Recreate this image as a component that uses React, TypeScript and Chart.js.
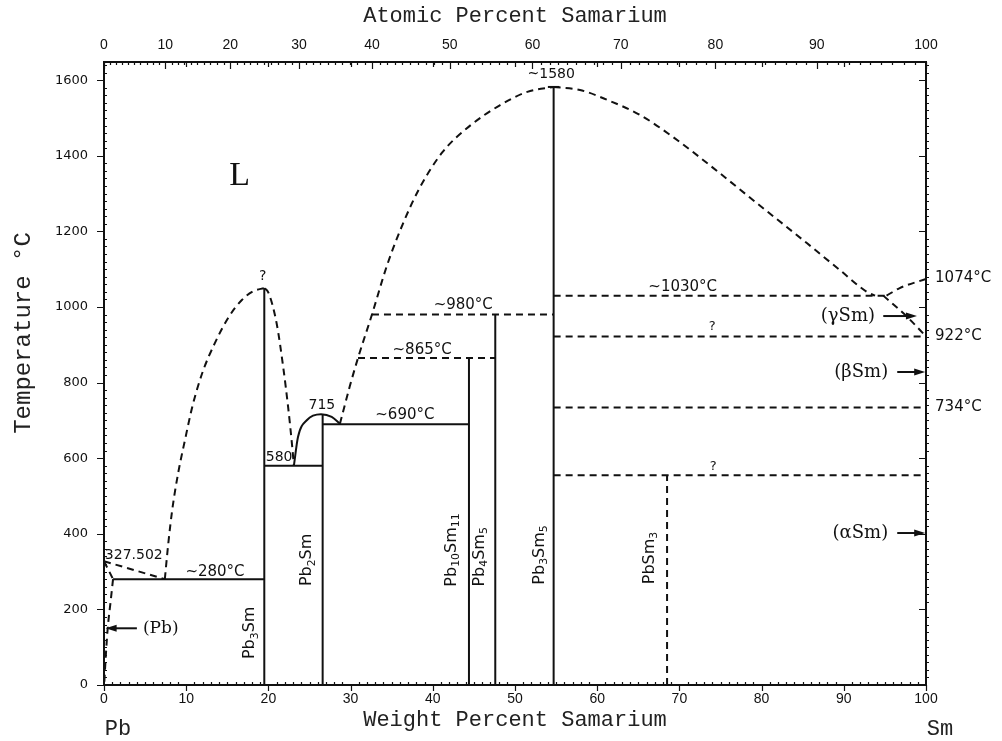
import React, { useEffect, useRef } from "react";
import { Chart, registerables } from "chart.js";

Chart.register(...registerables);

type P = { x: number; y: number };

// ---------- axes ----------
const X_MIN = 0;
const X_MAX = 100;
const Y_MIN = 0;
const Y_MAX = 1648;
const WT_TICKS = [0, 10, 20, 30, 40, 50, 60, 70, 80, 90, 100];
const TEMP_TICKS = [0, 200, 400, 600, 800, 1000, 1200, 1400, 1600];
const AT_TICKS = [0, 10, 20, 30, 40, 50, 60, 70, 80, 90, 100];
const MASS_PB = 207.2;
const MASS_SM = 150.36;
const atToWt = (a: number) =>
  a <= 0 ? 0 : a >= 100 ? 100 : ((a * MASS_SM) / (a * MASS_SM + (100 - a) * MASS_PB)) * 100;

// ---------- compounds (vertical lines, wt% Sm, °C) ----------
const PB3SM: P[] = [{ x: 19.5, y: 0 }, { x: 19.5, y: 1050 }];
const PB2SM: P[] = [{ x: 26.6, y: 0 }, { x: 26.6, y: 715 }];
const PB10SM11: P[] = [{ x: 44.4, y: 0 }, { x: 44.4, y: 865 }];
const PB4SM5: P[] = [{ x: 47.6, y: 0 }, { x: 47.6, y: 980 }];
const PB3SM5: P[] = [{ x: 54.7, y: 0 }, { x: 54.7, y: 1582 }];
const PB3SM5_CAP: P[] = [{ x: 54.0, y: 1582 }, { x: 55.4, y: 1582 }];
const PBSM3: P[] = [{ x: 68.5, y: 0 }, { x: 68.5, y: 555 }];

// ---------- invariant horizontals ----------
const ISO_280: P[] = [{ x: 1.1, y: 280 }, { x: 19.5, y: 280 }];
const ISO_580: P[] = [{ x: 19.5, y: 580 }, { x: 26.6, y: 580 }];
const ISO_690: P[] = [{ x: 26.6, y: 690 }, { x: 44.4, y: 690 }];
const ISO_865: P[] = [{ x: 30.9, y: 865 }, { x: 47.6, y: 865 }];
const ISO_980: P[] = [{ x: 32.6, y: 980 }, { x: 54.7, y: 980 }];
const ISO_1030: P[] = [{ x: 54.7, y: 1030 }, { x: 95.2, y: 1030 }];
const ISO_922: P[] = [{ x: 54.7, y: 922 }, { x: 100, y: 922 }];
const ISO_734: P[] = [{ x: 54.7, y: 734 }, { x: 100, y: 734 }];
const ISO_555: P[] = [{ x: 54.7, y: 555 }, { x: 100, y: 555 }];

// ---------- curves ----------
const LIQ_PB: P[] = [{ x: 0, y: 327.5 }, { x: 7.4, y: 280 }];
const SOLIDUS_PB: P[] = [{ x: 0, y: 327.5 }, { x: 1.1, y: 280 }];
const SOLVUS_PB: P[] = [
  { x: 1.1, y: 280 }, { x: 0.8, y: 220 }, { x: 0.45, y: 150 }, { x: 0.2, y: 70 }, { x: 0.02, y: 0 },
];
const LIQ_A: P[] = [
  { x: 7.4, y: 280 }, { x: 7.8, y: 370 }, { x: 8.3, y: 463 }, { x: 9.0, y: 558 },
  { x: 9.85, y: 648 }, { x: 10.8, y: 741 }, { x: 12.0, y: 828 }, { x: 13.5, y: 905 },
  { x: 15.1, y: 971 }, { x: 16.8, y: 1019 }, { x: 18.2, y: 1042 }, { x: 19.5, y: 1050 },
];
const LIQ_B: P[] = [
  { x: 19.5, y: 1050 }, { x: 20.0, y: 1038 }, { x: 21.0, y: 957 }, { x: 21.8, y: 841 },
  { x: 22.4, y: 735 }, { x: 22.9, y: 630 }, { x: 23.1, y: 580 },
];
const PB2SM_DOME: P[] = [
  { x: 23.1, y: 580 }, { x: 23.6, y: 656 }, { x: 24.7, y: 701 }, { x: 26.4, y: 716 },
  { x: 27.7, y: 709 }, { x: 28.7, y: 691 },
];
const LIQ_C: P[] = [
  { x: 28.7, y: 691 }, { x: 29.9, y: 790 }, { x: 30.9, y: 865 }, { x: 32.6, y: 980 },
  { x: 34.4, y: 1108 }, { x: 36.4, y: 1222 }, { x: 38.4, y: 1315 }, { x: 41.2, y: 1410 },
  { x: 44.5, y: 1479 }, { x: 48.2, y: 1534 }, { x: 51.5, y: 1569 }, { x: 54.7, y: 1582 },
];
const LIQ_D: P[] = [
  { x: 54.7, y: 1582 }, { x: 57.9, y: 1574 }, { x: 61.2, y: 1548 }, { x: 65.2, y: 1508 },
  { x: 69.2, y: 1450 }, { x: 74.1, y: 1368 }, { x: 79.4, y: 1275 }, { x: 85.5, y: 1169 },
  { x: 89.5, y: 1098 }, { x: 92.8, y: 1040 }, { x: 93.8, y: 1030 },
];
const SM_MELT: P[] = [{ x: 95.2, y: 1030 }, { x: 96.8, y: 1050 }, { x: 100, y: 1074 }];
const GAMMA_SOLVUS: P[] = [{ x: 94.8, y: 1030 }, { x: 97.7, y: 974 }, { x: 100, y: 922 }];

type Line = { data: P[]; dashed: boolean; curve: boolean };
const LINES: Line[] = [
  { data: PB3SM, dashed: false, curve: false },
  { data: PB2SM, dashed: false, curve: false },
  { data: PB10SM11, dashed: false, curve: false },
  { data: PB4SM5, dashed: false, curve: false },
  { data: PB3SM5, dashed: false, curve: false },
  { data: PB3SM5_CAP, dashed: false, curve: false },
  { data: PBSM3, dashed: true, curve: false },
  { data: ISO_280, dashed: false, curve: false },
  { data: ISO_580, dashed: false, curve: false },
  { data: ISO_690, dashed: false, curve: false },
  { data: ISO_865, dashed: true, curve: false },
  { data: ISO_980, dashed: true, curve: false },
  { data: ISO_1030, dashed: true, curve: false },
  { data: ISO_922, dashed: true, curve: false },
  { data: ISO_734, dashed: true, curve: false },
  { data: ISO_555, dashed: true, curve: false },
  { data: LIQ_PB, dashed: true, curve: false },
  { data: SOLIDUS_PB, dashed: true, curve: false },
  { data: SOLVUS_PB, dashed: true, curve: true },
  { data: LIQ_A, dashed: true, curve: true },
  { data: LIQ_B, dashed: true, curve: true },
  { data: PB2SM_DOME, dashed: false, curve: true },
  { data: LIQ_C, dashed: true, curve: true },
  { data: LIQ_D, dashed: true, curve: true },
  { data: SM_MELT, dashed: true, curve: true },
  { data: GAMMA_SOLVUS, dashed: true, curve: true },
];

// ---------- annotations (data coordinates) ----------
type Label = {
  text: string; x: number; y: number; font: string;
  align?: CanvasTextAlign; rotate?: boolean;
};
const SANS = "'DejaVu Sans', sans-serif";
const SERIF = "'DejaVu Serif', serif";
const LABELS: Label[] = [
  { text: "~1580", x: 54.4, y: 1614, font: `14px ${SANS}` },
  { text: "L", x: 16.5, y: 1345, font: `34px 'Liberation Serif', serif` },
  { text: "?", x: 19.3, y: 1082, font: `14px ${SANS}` },
  { text: "715", x: 26.5, y: 740, font: `14px ${SANS}` },
  { text: "580", x: 21.3, y: 603, font: `14px ${SANS}` },
  { text: "~690°C", x: 36.6, y: 714, font: `15px ${SANS}` },
  { text: "~865°C", x: 38.7, y: 886, font: `15px ${SANS}` },
  { text: "~980°C", x: 43.7, y: 1005, font: `15px ${SANS}` },
  { text: "~1030°C", x: 70.4, y: 1053, font: `15px ${SANS}` },
  { text: "?", x: 74.0, y: 948, font: `13px ${SANS}` },
  { text: "?", x: 74.1, y: 578, font: `13px ${SANS}` },
  { text: "~280°C", x: 13.5, y: 299, font: `15px ${SANS}` },
  { text: "327.502", x: 0.1, y: 344, font: `14px ${SANS}`, align: "left" },
  { text: "(Pb)", x: 6.9, y: 150, font: `17px ${SERIF}` },
  { text: "1074°C", x: 101.1, y: 1077, font: `15px ${SANS}`, align: "left" },
  { text: "922°C", x: 101.1, y: 922, font: `15px ${SANS}`, align: "left" },
  { text: "734°C", x: 101.1, y: 734, font: `15px ${SANS}`, align: "left" },
  { text: "(γSm)", x: 93.8, y: 976, font: `18px ${SERIF}`, align: "right" },
  { text: "(βSm)", x: 95.4, y: 828, font: `18px ${SERIF}`, align: "right" },
  { text: "(αSm)", x: 95.4, y: 402, font: `18px ${SERIF}`, align: "right" },
  { text: "Pb_{3}Sm", x: 17.8, y: 138, font: `16px ${SANS}`, rotate: true },
  { text: "Pb_{2}Sm", x: 24.7, y: 331, font: `16px ${SANS}`, rotate: true },
  { text: "Pb_{10}Sm_{11}", x: 42.3, y: 357, font: `16px ${SANS}`, rotate: true },
  { text: "Pb_{4}Sm_{5}", x: 45.7, y: 339, font: `16px ${SANS}`, rotate: true },
  { text: "Pb_{3}Sm_{5}", x: 53.0, y: 344, font: `16px ${SANS}`, rotate: true },
  { text: "PbSm_{3}", x: 66.4, y: 336, font: `16px ${SANS}`, rotate: true },
];
type Arrow = { x1: number; x2: number; y: number };
const ARROWS: Arrow[] = [
  { x1: 4.0, x2: 0.2, y: 150 },
  { x1: 94.8, x2: 98.9, y: 976 },
  { x1: 96.5, x2: 99.9, y: 828 },
  { x1: 96.5, x2: 99.9, y: 402 },
];

function drawRich(ctx: CanvasRenderingContext2D, text: string, font: string, align: CanvasTextAlign) {
  const size = parseFloat(font);
  const family = font.replace(/^[\d.]+px\s*/, "");
  const parts: { t: string; sub: boolean }[] = [];
  const re = /_\{([^}]*)\}/g;
  let last = 0;
  let m: RegExpExecArray | null;
  while ((m = re.exec(text))) {
    if (m.index > last) parts.push({ t: text.slice(last, m.index), sub: false });
    parts.push({ t: m[1], sub: true });
    last = m.index + m[0].length;
  }
  if (last < text.length) parts.push({ t: text.slice(last), sub: false });
  const subSize = size * 0.68;
  let total = 0;
  const widths = parts.map((p) => {
    ctx.font = `${p.sub ? subSize : size}px ${family}`;
    const w = ctx.measureText(p.t).width;
    total += w;
    return w;
  });
  let x = align === "left" ? 0 : align === "right" ? -total : -total / 2;
  ctx.textAlign = "left";
  ctx.textBaseline = "middle";
  parts.forEach((p, i) => {
    ctx.font = `${p.sub ? subSize : size}px ${family}`;
    ctx.fillText(p.t, x, p.sub ? size * 0.3 : 0);
    x += widths[i];
  });
}

const framePlugin = {
  id: "frame",
  afterDraw(chart: any) {
    const { ctx, chartArea: ca, scales } = chart;
    const xs = scales.x;
    const ys = scales.y;
    ctx.save();
    ctx.strokeStyle = "#111";
    ctx.fillStyle = "#111";
    ctx.lineWidth = 1.2;
    ctx.beginPath();
    for (let v = X_MIN; v <= X_MAX; v += 1) {
      const px = Math.round(xs.getPixelForValue(v)) + 0.5;
      if (v % 10 === 0) {
        ctx.moveTo(px, ca.bottom);
        ctx.lineTo(px, ca.bottom + 6);
        ctx.moveTo(px, ca.top);
        ctx.lineTo(px, ca.top + 5);
      } else {
        ctx.moveTo(px, ca.bottom);
        ctx.lineTo(px, ca.bottom - 3);
      }
    }
    for (let a = 0; a <= 100; a += 1) {
      const px = Math.round(xs.getPixelForValue(atToWt(a))) + 0.5;
      ctx.moveTo(px, ca.top);
      ctx.lineTo(px, ca.top + (a % 10 === 0 ? 7 : 3));
    }
    for (let t = 0; t <= 1640; t += 20) {
      const py = Math.round(ys.getPixelForValue(t)) + 0.5;
      if (t % 200 === 0) {
        ctx.moveTo(ca.left - 7, py);
        ctx.lineTo(ca.left, py);
        ctx.moveTo(ca.right - 7, py);
        ctx.lineTo(ca.right, py);
      } else {
        ctx.moveTo(ca.left, py);
        ctx.lineTo(ca.left + 3, py);
        ctx.moveTo(ca.right, py);
        ctx.lineTo(ca.right + 3, py);
      }
    }
    ctx.stroke();

    // axis titles
    ctx.fillStyle = "#222";
    ctx.textBaseline = "middle";
    ctx.textAlign = "center";
    ctx.font = "22px 'Liberation Mono', monospace";
    const cx = (ca.left + ca.right) / 2;
    ctx.fillText("Atomic Percent Samarium", cx, ca.top - 46);
    ctx.fillText("Weight Percent Samarium", cx, ca.bottom + 35);
    ctx.fillText("Pb", ca.left + 14, ca.bottom + 44);
    ctx.fillText("Sm", ca.right + 14, ca.bottom + 44);
    ctx.save();
    ctx.translate(ca.left - 80, 333);
    ctx.rotate(-Math.PI / 2);
    ctx.font = "24px 'Liberation Mono', monospace";
    ctx.fillText("Temperature °C", 0, 0);
    ctx.restore();

    // annotations
    ctx.fillStyle = "#111";
    LABELS.forEach((l) => {
      const px = xs.getPixelForValue(l.x);
      const py = ys.getPixelForValue(l.y);
      ctx.save();
      ctx.translate(px, py);
      if (l.rotate) ctx.rotate(-Math.PI / 2);
      drawRich(ctx, l.text, l.font, l.align || "center");
      ctx.restore();
    });

    // arrows
    ctx.lineWidth = 2;
    ARROWS.forEach((a) => {
      const x1 = xs.getPixelForValue(a.x1);
      const x2 = xs.getPixelForValue(a.x2);
      const py = ys.getPixelForValue(a.y);
      const dir = Math.sign(x2 - x1);
      ctx.beginPath();
      ctx.moveTo(x1, py);
      ctx.lineTo(x2 - dir * 6, py);
      ctx.stroke();
      ctx.beginPath();
      ctx.moveTo(x2, py);
      ctx.lineTo(x2 - dir * 11, py - 3.5);
      ctx.lineTo(x2 - dir * 11, py + 3.5);
      ctx.closePath();
      ctx.fill();
    });
    ctx.restore();
  },
};

export default function App() {
  const ref = useRef<HTMLCanvasElement>(null);
  useEffect(() => {
    const canvas = ref.current;
    if (!canvas) return;
    const datasets = LINES.map((l) => ({
      data: l.data,
      showLine: true,
      borderColor: "#111",
      borderWidth: 2,
      borderDash: l.dashed ? [7, 5] : [],
      pointRadius: 0,
      cubicInterpolationMode: l.curve ? "monotone" : "default",
      tension: 0,
      fill: false,
    }));
    const chart = new Chart(canvas, {
      type: "scatter",
      data: { datasets },
      plugins: [framePlugin],
      options: {
        animation: false,
        responsive: false,
        devicePixelRatio: 1,
        layout: { padding: 0 },
        plugins: { legend: { display: false }, tooltip: { enabled: false } },
        scales: {
          x: {
            type: "linear",
            position: "bottom",
            min: X_MIN,
            max: X_MAX,
            afterBuildTicks: (s: any) => {
              s.ticks = WT_TICKS.map((v) => ({ value: v }));
            },
            afterFit: (s: any) => {
              s.height = 56;
            },
            grid: { display: false, drawTicks: false, tickLength: 0 },
            border: { display: true, color: "#111", width: 2 },
            ticks: {
              autoSkip: false,
              maxRotation: 0,
              padding: 6,
              color: "#111",
              font: { family: "'Liberation Sans', sans-serif", size: 14 },
              callback: (v: any) => String(v),
            },
          },
          xTop: {
            type: "linear",
            position: "top",
            min: X_MIN,
            max: X_MAX,
            afterBuildTicks: (s: any) => {
              s.ticks = AT_TICKS.map((a) => ({ value: atToWt(a) }));
            },
            afterFit: (s: any) => {
              s.height = 62;
            },
            grid: { display: false, drawTicks: false, tickLength: 0 },
            border: { display: true, color: "#111", width: 2 },
            ticks: {
              autoSkip: false,
              maxRotation: 0,
              padding: 8,
              color: "#111",
              font: { family: "'Liberation Sans', sans-serif", size: 14 },
              callback: (_v: any, i: number) => String(AT_TICKS[i]),
            },
          },
          y: {
            type: "linear",
            position: "left",
            min: Y_MIN,
            max: Y_MAX,
            afterBuildTicks: (s: any) => {
              s.ticks = TEMP_TICKS.map((v) => ({ value: v }));
            },
            afterFit: (s: any) => {
              s.width = 104;
            },
            grid: { display: false, drawTicks: false, tickLength: 0 },
            border: { display: true, color: "#111", width: 2 },
            ticks: {
              padding: 16,
              color: "#111",
              font: { family: "'DejaVu Sans', sans-serif", size: 13 },
              callback: (v: any) => String(v),
            },
          },
          yRight: {
            type: "linear",
            position: "right",
            min: Y_MIN,
            max: Y_MAX,
            afterFit: (s: any) => {
              s.width = 76;
            },
            grid: { display: false, drawTicks: false, tickLength: 0 },
            border: { display: true, color: "#111", width: 2 },
            ticks: { display: false },
          },
        },
      },
    } as any);
    return () => chart.destroy();
  }, []);
  return (
    <div style={{ position: "absolute", left: 0, top: 0, width: 1002, height: 741, background: "#fff" }}>
      <canvas ref={ref} width={1002} height={741} style={{ display: "block" }} />
    </div>
  );
}
